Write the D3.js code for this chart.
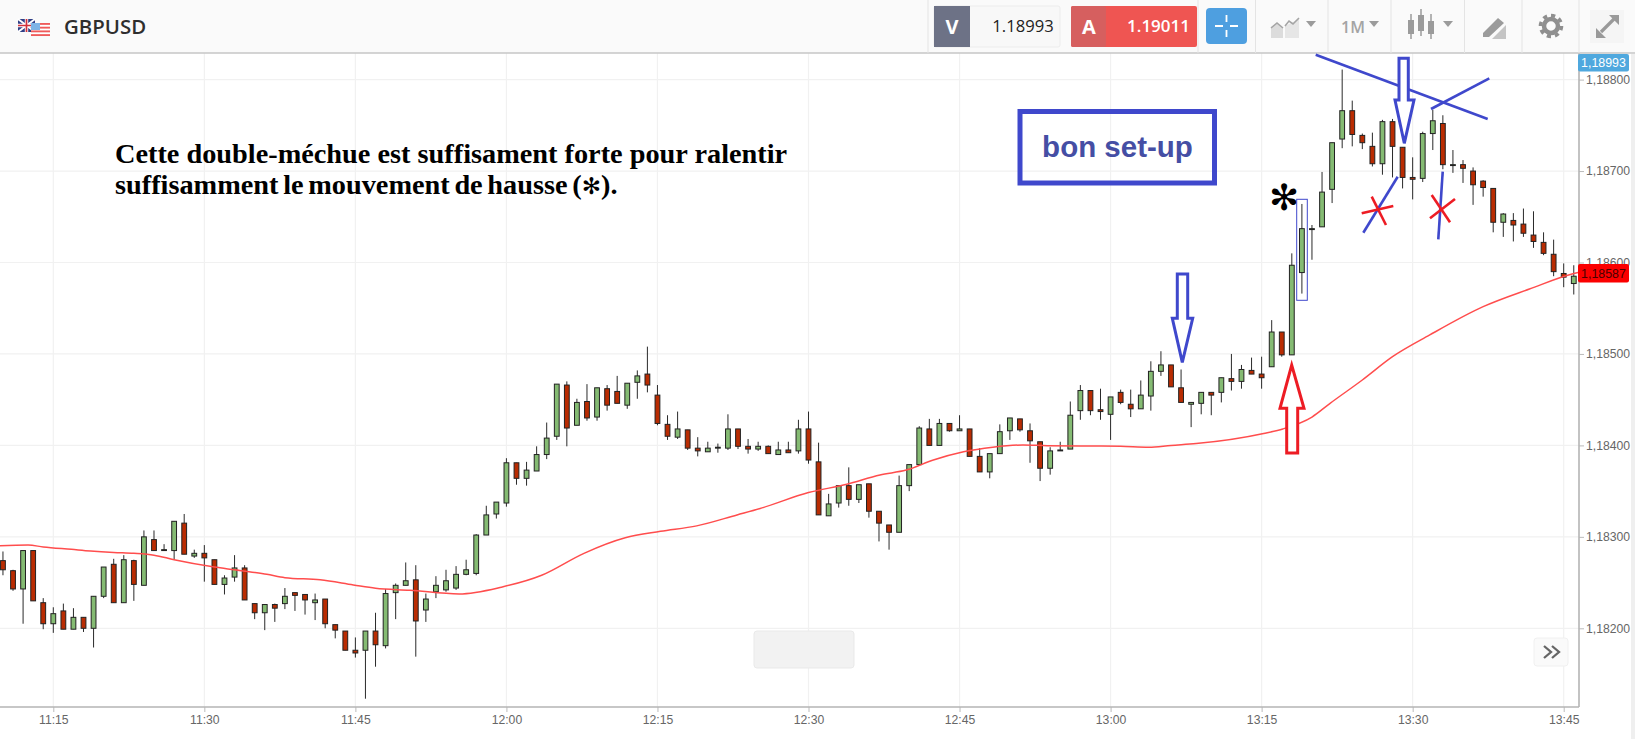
<!DOCTYPE html>
<html><head><meta charset="utf-8">
<script src="https://cdn.jsdelivr.net/npm/d3@7/dist/d3.min.js"></script>
<style>html,body{margin:0;padding:0;background:#fff;overflow:hidden}svg{display:block}</style>
</head><body><div id="c"></div>
<script>
// Prices are stored in points above 1.18000 (1 point = 0.00001). One candle per minute from 11:10.
const firstCandle = "11:10";
const opens = [274,263,243,285,228,205,219,199,212,200,
235,270,228,274,247,297,285,285,315,279,
282,275,248,256,266,227,217,226,227,239,
237,228,232,204,197,176,176,197,181,239,
247,253,220,240,242,244,259,260,302,325,
337,381,364,372,390,410,466,422,448,431,
462,459,444,469,478,455,423,409,417,397,
393,397,397,418,399,396,399,390,395,394,
418,382,323,337,356,341,358,328,313,305,
356,379,418,400,424,416,418,388,371,391,
416,429,416,404,375,394,396,438,460,439,
434,458,445,440,454,481,488,463,445,446,
458,458,473,470,482,478,486,524,499,589,
636,639,680,735,766,739,727,708,754,726,
693,692,741,752,706,707,700,689,681,644,
646,642,630,622,609,588,577];
const closes = [264,243,285,230,205,216,199,212,200,235,
267,228,275,248,300,285,286,317,281,282,
277,248,255,266,231,217,226,222,235,236,
231,231,205,198,176,173,197,182,238,247,
252,208,232,247,252,259,264,302,324,338,
381,364,373,390,408,467,419,447,430,463,
444,446,468,476,466,424,410,418,397,394,
397,398,418,399,396,399,391,395,392,418,
384,324,336,356,341,357,328,315,305,356,
379,419,400,424,416,418,388,371,391,415,
430,417,405,375,394,395,433,460,438,437,
453,447,440,455,481,488,464,447,447,458,
455,474,470,483,478,474,524,499,597,637,
637,677,731,766,740,731,708,754,727,693,
691,741,755,707,707,703,685,682,644,653,
641,632,623,610,590,584,585];
const highs = [284,264,285,285,233,223,227,222,212,235,
267,276,280,275,307,307,292,317,325,286,
291,275,258,280,269,227,226,227,244,239,
237,238,232,204,197,190,197,217,243,249,
272,269,238,257,264,268,275,303,334,338,
386,381,382,399,425,467,470,451,467,463,
466,476,468,482,508,466,433,437,417,409,
404,402,434,418,407,404,400,404,404,428,
437,403,347,356,376,357,358,328,313,367,
379,421,429,429,424,433,418,397,391,423,
430,429,424,404,398,404,448,466,460,462,
453,461,461,471,492,503,488,483,447,458,
458,474,500,488,496,497,537,524,610,664,
641,699,731,811,777,741,742,756,757,726,
715,743,767,761,723,712,704,690,681,654,
654,659,656,633,625,599,597];
const lows = [258,241,205,230,199,195,199,199,196,179,
233,228,228,230,247,285,285,275,281,277,
251,248,237,251,231,210,198,207,221,219,
215,209,200,189,176,168,123,158,178,210,
247,169,207,233,240,242,258,258,302,320,
333,357,356,372,385,406,399,422,427,427,
438,446,440,451,458,422,406,407,395,388,
393,392,395,396,391,394,391,390,392,391,
380,324,323,332,334,337,321,295,286,305,
350,379,400,400,415,416,388,371,364,391,
406,415,381,361,368,394,396,428,433,428,
406,445,431,440,438,476,464,447,420,434,
433,447,460,462,478,462,486,497,499,566,
603,639,665,725,727,724,705,696,693,681,
669,688,723,702,698,687,663,672,633,628,
623,628,616,608,585,573,565];
// Moving average: minutes after 11:10, value in points above 1.18000
const maMinutes = [-1,2.5,4,6.8,8.7,11,13,15,17,21,23,25,26.2,28,31.5,34.8,37,40.4,45.3,49.5,53.5,57.7,61.8,65.3,68.9,72.9,75.2,80,83.8,87.1,89.7,92.4,95.4,98.3,101.3,103.7,107,111,113.8,116,118.5,125.2,127.1,130,131.8,135,138,141.7,147,151.6,156,156.8];
const maValues = [290,291,289,286.4,284.6,283,282,280,275,267,264,261,259,255.4,253,247.4,243.8,241.6,237.6,245,258,282,299,306,312,324,331,348.4,357.5,367.7,373,384,393,398,400.5,399.7,399.4,399,398,400,402,413,418,431,446,471.5,497,520.8,551.7,571,588,590];
const priceTicks = [200,300,400,500,600,700,800];
const timeTicks = ["11:15","11:30","11:45","12:00","12:15","12:30","12:45","13:00","13:15","13:30","13:45"];
const bidLabel = "1.18993", askLabel = "1.19011", lastBid = "1,18993", lastPrice = "1,18587";
const noteLines = ["Cette double-méchue est suffisament forte pour ralentir","suffisamment le mouvement de hausse ("];
const setupLabel = "bon set-up";

const W=1635,H=739,plotR=1579,plotB=707,plotT=53;
const svg=d3.select("#c").append("svg").attr("width",W).attr("height",H).attr("viewBox",[0,0,W,H]);
const SANS="'Liberation Sans',Arial,sans-serif";
const toDate=s=>{const [h,m]=s.split(":").map(Number);return new Date(Date.UTC(2017,0,1,h,m));};
const addMin=(d,n)=>new Date(+d+n*60000);
const x=d3.scaleUtc().domain([toDate("11:15"),toDate("13:45")]).range([53.3,1563.7]);
const y=d3.scaleLinear().domain([200,800]).range([628.3,79.6]);
const t0=toDate(firstCandle);
const candles=opens.map((o,i)=>({t:addMin(t0,i),o,c:closes[i],h:highs[i],l:lows[i]}));

// grid
const grid=svg.append("g").attr("stroke","#f1f1f1").attr("stroke-width",1.2);
grid.selectAll(".v").data(timeTicks).join("line").attr("x1",d=>x(toDate(d))).attr("x2",d=>x(toDate(d))).attr("y1",plotT).attr("y2",plotB);
grid.selectAll(".h").data(priceTicks).join("line").attr("y1",d=>y(d)).attr("y2",d=>y(d)).attr("x1",0).attr("x2",plotR);

// candles
const cg=svg.append("g").attr("clip-path","url(#plot)");
svg.append("clipPath").attr("id","plot").append("rect").attr("x",0).attr("y",plotT).attr("width",plotR).attr("height",plotB-plotT);
cg.selectAll(".w").data(candles).join("line").attr("x1",d=>x(d.t)).attr("x2",d=>x(d.t)).attr("y1",d=>y(d.h)).attr("y2",d=>y(d.l)).attr("stroke","#2a2a2a").attr("stroke-width",1);
cg.selectAll(".b").data(candles).join("rect")
 .attr("x",d=>x(d.t)-2.4).attr("width",4.8)
 .attr("y",d=>y(Math.max(d.o,d.c))).attr("height",d=>Math.max(0.6,Math.abs(y(d.o)-y(d.c))))
 .attr("fill",d=>d.c>=d.o?"#85bb73":"#b92c02").attr("stroke","#222").attr("stroke-width",1);

// moving average
const maData=maMinutes.map((m,i)=>({t:addMin(t0,m),v:maValues[i]}));
cg.append("path").datum(maData).attr("fill","none").attr("stroke","#ff4d4d").attr("stroke-width",1.5)
 .attr("d",d3.line().curve(d3.curveMonotoneX).x(d=>x(d.t)).y(d=>y(d.v)));

// axes
const yAxis=d3.axisRight(y).tickValues(priceTicks).tickSize(5).tickPadding(2).tickFormat(d=>d3.format(".5f")(1.18+d/1e5).replace(".",","));
const xAxis=d3.axisBottom(x).tickValues(timeTicks.map(toDate)).tickSize(5).tickPadding(3).tickFormat(d3.utcFormat("%H:%M"));
const gy=svg.append("g").attr("transform",`translate(${plotR},0)`).call(yAxis);
const gx=svg.append("g").attr("transform",`translate(0,${plotB})`).call(xAxis);
[gy,gx].forEach(g=>{g.select(".domain").remove();g.selectAll("line").attr("stroke","#bbb");
 g.selectAll("text").attr("fill","#666").style("font",`12.2px ${SANS}`);});
svg.append("line").attr("x1",plotR).attr("x2",plotR).attr("y1",plotT).attr("y2",plotB).attr("stroke","#b4b4b4").attr("stroke-width",1.6);
svg.append("line").attr("x1",0).attr("x2",plotR).attr("y1",plotB).attr("y2",plotB).attr("stroke","#b4b4b4").attr("stroke-width",1.6);
svg.append("rect").attr("x",1631).attr("y",54).attr("width",4).attr("height",685).attr("fill","#efefef");

// price labels
const tag=(yy,h,fill,col,txt)=>{svg.append("rect").attr("x",1578).attr("y",yy).attr("width",51).attr("height",h).attr("rx",2).attr("fill",fill);
 svg.append("text").attr("x",1603.5).attr("y",yy+h/2+4.4).attr("text-anchor","middle").attr("fill",col).style("font",`12.4px ${SANS}`).text(txt);};
tag(54,17.5,"#4fa8de","#fff",lastBid);
tag(264,18.5,"#fb0000","#4a0000",lastPrice);

// scroll buttons
svg.append("rect").attr("x",754).attr("y",631).attr("width",100).attr("height",37).attr("rx",3).attr("fill","#f2f2f2").attr("stroke","#e9e9e9");
svg.append("rect").attr("x",1534).attr("y",638).attr("width",34).attr("height",28).attr("rx",3).attr("fill","#fafafa").attr("stroke","#f0f0f0");
svg.append("path").attr("d","M1544 646l7 6-7 6M1552 646l7 6-7 6").attr("fill","none").attr("stroke","#666").attr("stroke-width",2.3);

// header
svg.append("rect").attr("width",W).attr("height",53).attr("fill","#fafafa");
svg.append("line").attr("x1",0).attr("x2",W).attr("y1",53).attr("y2",53).attr("stroke","#c6c6c6").attr("stroke-width",1.5);
[928,1198,1255.5,1328,1391,1464.5,1522,1579].forEach(v=>svg.append("line").attr("x1",v).attr("x2",v).attr("y1",0).attr("y2",53).attr("stroke","#e4e4e4"));
svg.append("rect").attr("x",1590).attr("y",10).attr("width",34).attr("height",33).attr("fill","#f5f5f5");
// flags
const fl=svg.append("g");
fl.append("rect").attr("x",18).attr("y",19).attr("width",17).attr("height",13).attr("fill","#2f3f86");
fl.append("path").attr("d","M18 19L35 32M35 19L18 32").attr("stroke","#fff").attr("stroke-width",2);
fl.append("path").attr("d","M26.5 19V32M18 25.5H35").attr("stroke","#fff").attr("stroke-width",3.4);
fl.append("path").attr("d","M26.5 19V32M18 25.5H35").attr("stroke","#d2323c").attr("stroke-width",1.7);
fl.append("rect").attr("x",31).attr("y",23).attr("width",19).attr("height",13).attr("fill","#fff");
d3.range(0,7,2).forEach(i=>fl.append("rect").attr("x",31).attr("y",23+i*1.86).attr("width",19).attr("height",1.86).attr("fill","#ef5a5a"));
fl.append("rect").attr("x",31).attr("y",23).attr("width",9).attr("height",7).attr("fill","#7db4e6");
svg.append("text").attr("x",64).attr("y",34).attr("fill","#2e2e2e").style("font","600 20.4px 'Open Sans',sans-serif").text("GBPUSD");
// bid/ask
svg.append("rect").attr("x",934).attr("y",6).attr("width",126).attr("height",41).attr("rx",2).attr("fill","#f8f8f8").attr("stroke","#ececec");
svg.append("rect").attr("x",934).attr("y",6).attr("width",36).attr("height",41).attr("fill","#6d7286");
svg.append("rect").attr("x",1071).attr("y",6).attr("width",126).attr("height",41).attr("rx",2).attr("fill","#ef5552");
svg.append("rect").attr("x",1071).attr("y",6).attr("width",35).attr("height",41).attr("rx",2).attr("fill","#d65f5f");
const OS="'Open Sans',sans-serif";
svg.append("text").attr("x",952).attr("y",34).attr("text-anchor","middle").attr("fill","#fff").style("font",`700 20px ${OS}`).text("V");
svg.append("text").attr("x",1089).attr("y",34).attr("text-anchor","middle").attr("fill","#fff").style("font",`700 20px ${OS}`).text("A");
svg.append("text").attr("x",1023).attr("y",32).attr("text-anchor","middle").attr("fill","#222").style("font",`16.6px ${OS}`).text(bidLabel);
svg.append("text").attr("x",1158.5).attr("y",32).attr("text-anchor","middle").attr("fill","#fff").style("font",`600 17px ${OS}`).text(askLabel);
svg.append("rect").attr("x",1206).attr("y",8).attr("width",41).attr("height",36).attr("rx",4).attr("fill","#4e9fe0");
svg.append("path").attr("d","M1215 26H1223M1230 26H1238M1226.5 15V22M1226.5 30V37").attr("stroke","#fff").attr("stroke-width",1.8);
// toolbar icons
const ic=svg.append("g").attr("fill","#9b9b9b");
const tri=v=>ic.append("path").attr("d",`M${v} 21h10l-5 6z`);
tri(1306);tri(1369);tri(1443);
ic.append("path").attr("d","M1271 38V27l6-4 6 5V38z").attr("fill","#dcdcdc");
ic.append("path").attr("d","M1285 38V26l6-3 8-4V38z").attr("fill","#e6e6e6");
ic.append("path").attr("d","M1271 28l6-5 6 5M1285 26l4-5 4 3 6-6").attr("fill","none").attr("stroke","#a5a5a5").attr("stroke-width",1.6);
svg.append("text").attr("x",1341).attr("y",33).attr("fill","#a4a4a4").style("font",`600 16px ${OS}`).text("1M");
[[1411,20,34,17,39],[1421,15,31,12,36],[1431,21,34,17,39]].forEach(a=>{
 ic.append("rect").attr("x",a[0]-3).attr("y",a[1]).attr("width",6).attr("height",a[2]-a[1]);
 ic.append("line").attr("x1",a[0]).attr("x2",a[0]).attr("y1",a[3]-3).attr("y2",a[4]).attr("stroke","#9b9b9b").attr("stroke-width",1.5);});
ic.append("path").attr("d","M1483 33l15-15 6 5-15 14h-6z");
ic.append("path").attr("d","M1492 39l14-14v14z").attr("fill","#c4c4c4");
// gear
ic.append("circle").attr("cx",1551).attr("cy",26).attr("r",10.5).attr("fill","none").attr("stroke","#8f8f8f").attr("stroke-width",3.6).attr("stroke-dasharray","4.2 4");
ic.append("circle").attr("cx",1551).attr("cy",26).attr("r",7).attr("fill","none").attr("stroke","#8f8f8f").attr("stroke-width",4.5);
// expand
ic.append("path").attr("d","M1601 32L1614 19").attr("stroke","#999").attr("stroke-width",3.2);
ic.append("path").attr("d","M1609 15h10v10zM1606 38h-10v-10z").attr("fill","#999");

// written annotations
const note=svg.append("g").attr("fill","#000").style("font","bold 28.3px 'Liberation Serif',serif");
note.append("text").attr("x",115).attr("y",163).text(noteLines[0]);
const l2=note.append("text").attr("x",115).attr("y",194).style("word-spacing","-2.4px");
l2.append("tspan").text(noteLines[1]);
l2.append("tspan").style("font-family","'DejaVu Sans'").style("font-size","23px").text("✻");
l2.append("tspan").text(").");
svg.append("text").attr("x",1284).attr("y",210).attr("text-anchor","middle").attr("fill","#000").style("font","bold 36px 'DejaVu Sans'").text("✻");

const BLUE="#3f48cc",RED="#ed1c24";
svg.append("rect").attr("x",1020).attr("y",111.5).attr("width",194.5).attr("height",71.5).attr("fill","none").attr("stroke",BLUE).attr("stroke-width",5);
svg.append("text").attr("x",1117.5).attr("y",157).attr("text-anchor","middle").attr("fill","#454ea4").style("font",`bold 29.5px ${SANS}`).text(setupLabel);
svg.append("rect").attr("x",1296.7).attr("y",199.3).attr("width",10.6).attr("height",101).attr("fill","none").attr("stroke",BLUE).attr("stroke-width",1);
const seg=(a,c,w)=>svg.append("line").attr("x1",a[0]).attr("y1",a[1]).attr("x2",a[2]).attr("y2",a[3]).attr("stroke",c).attr("stroke-width",w);
seg([1315.7,54.7,1487.7,119],BLUE,2.6);
seg([1431,109,1489.3,78.3],BLUE,2.6);
seg([1397.7,176.7,1363.3,232.7],BLUE,2.6);
seg([1442.7,171.7,1438.3,239.3],BLUE,2.6);
seg([1361.7,213.3,1393.3,206],RED,2.6);
seg([1371.7,196.7,1386,225],RED,2.6);
seg([1430,218.3,1455,199],RED,2.6);
seg([1431.7,195,1450,222.3],RED,2.6);
const arrow=(pts,c)=>svg.append("polygon").attr("points",pts.map(p=>p.join(",")).join(" ")).attr("fill","#fff").attr("stroke",c).attr("stroke-width",3);
arrow([[1399,58.3],[1408.3,58.3],[1408.3,100],[1414,100],[1404.3,143.3],[1395,100],[1399,100]],BLUE);
arrow([[1177.3,274],[1187.7,274],[1187.7,318.3],[1192.7,318.3],[1182.3,362.3],[1172.3,318.3],[1177.3,318.3]],BLUE);
arrow([[1286.7,453],[1297.7,453],[1297.7,408.3],[1304,408.3],[1291.7,365],[1280,408.3],[1286.7,408.3]],RED);
</script></body></html>
